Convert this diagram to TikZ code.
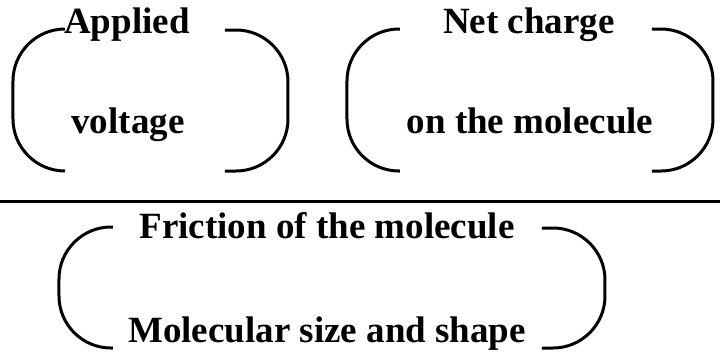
\documentclass[tikz,border=0pt]{standalone}
\usepackage{fontspec}
\setmainfont{Liberation Serif}

\begin{document}
\begin{tikzpicture}[
        x=0.5pt, y=-0.5pt,
        term/.style={anchor=base, inner sep=0pt, font=\fontsize{18.5}{22}\selectfont\bfseries},
        paren/.style={line width=1.5pt, rounded corners=26pt},
        barline/.style={line width=1.5pt}
    ]
    \useasboundingbox (0,0) rectangle (720,354);

    % Numerator terms
    \node[term] (applied) at (127,33) {Applied};
    \node[term] (voltage) at (128,133) {voltage};
    \node[term] (netcharge) at (529,33) {Net charge};
    \node[term] (onmol) at (530,133) {on the molecule};

    % Fraction bar
    \draw[barline] (0,201) -- (720,201);

    % Denominator terms
    \node[term] (friction) at (327,238) {Friction of the molecule};
    \node[term] (molsize) at (327,342) {Molecular size and shape};

    % Brackets
    \draw[paren] (65,29) -- (13,29) -- (13,171) -- (65,171);
    \draw[paren] (225,30) -- (288,30) -- (288,171) -- (225,171);
    \draw[paren] (400,29) -- (347,29) -- (347,171) -- (400,171);
    \draw[paren] (652,29) -- (713,29) -- (713,171) -- (652,171);
    \draw[paren] (113,227) -- (59,227) -- (59,348) -- (113,348);
    \draw[paren] (542,228) -- (605,228) -- (605,348) -- (542,348);

\end{tikzpicture}
\end{document}
